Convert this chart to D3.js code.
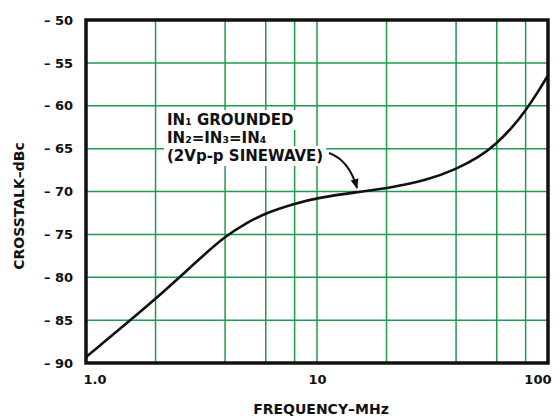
<!DOCTYPE html>
<html>
<head>
<meta charset="utf-8">
<script src="https://cdn.jsdelivr.net/npm/d3@7"></script>
<style>
  html, body { margin: 0; padding: 0; background: #fff; }
  svg { display: block; font-family: "DejaVu Sans", sans-serif; font-weight: bold; }
</style>
</head>
<body>
<svg id="chart" width="560" height="419"></svg>
<script>
// ---- data ----
const freqMHz = [1, 2, 3, 4, 5, 6, 8, 10, 15, 20, 30, 40, 50, 60, 70, 80, 90, 100];
const crosstalkDbc = [-89.3, -82.6, -78.2, -75.2, -73.6, -72.5, -71.4, -70.75, -70.05, -69.65, -68.7, -67.4, -66.05, -64.4, -62.55, -60.55, -58.5, -56.45];
const yTicks = [-50, -55, -60, -65, -70, -75, -80, -85, -90];
const xTickValues = [1, 10, 100];
const xTickLabels = ["1.0", "10", "100"];
const xGridValues = [2, 4, 6, 8, 10, 20, 40, 60, 80];
const yGridValues = [-55, -60, -65, -70, -75, -80, -85];
const annotationLines = ["IN\u2081 GROUNDED", "IN\u2082=IN\u2083=IN\u2084", "(2Vp-p SINEWAVE)"];

// ---- layout ----
const W = 560, H = 419;
const m = { left: 86, right: 12, top: 20, bottom: 56 };
const green = "#1f9a4e";

const svg = d3.select("#chart");
const x = d3.scaleLog().domain([1, 100]).range([m.left, W - m.right]);
const y = d3.scaleLinear().domain([-90, -50]).range([H - m.bottom, m.top]);

// grid
const grid = svg.append("g").attr("stroke", green).attr("stroke-width", 1.5);
grid.selectAll("line.v").data(xGridValues).join("line")
  .attr("x1", d => x(d)).attr("x2", d => x(d))
  .attr("y1", y(-50)).attr("y2", y(-90));
grid.selectAll("line.h").data(yGridValues).join("line")
  .attr("x1", x(1)).attr("x2", x(100))
  .attr("y1", d => y(d)).attr("y2", d => y(d));

// annotation with white backing
const ann = svg.append("g").attr("font-size", 15).attr("fill", "#111");
const annX = 167, annY0 = 125, annDy = 18;
const texts = ann.selectAll("text").data(annotationLines).join("text")
  .attr("x", annX).attr("y", (d, i) => annY0 + i * annDy)
  .text(d => d);
texts.each(function() {
  const b = this.getBBox();
  ann.insert("rect", "text")
    .attr("x", b.x - 3).attr("y", b.y - 1).attr("width", b.width + 6).attr("height", b.height + 2)
    .attr("fill", "#fff");
});

// arrow
const defs = svg.append("defs");
defs.append("marker").attr("id", "ah").attr("viewBox", "0 0 10 10")
  .attr("refX", 9).attr("refY", 5).attr("markerWidth", 5).attr("markerHeight", 5)
  .attr("markerUnits", "strokeWidth").attr("orient", "auto")
  .append("path").attr("d", "M0,1 L10,5 L0,9 Z").attr("fill", "#111");
svg.append("path")
  .attr("d", "M329,153 Q349,160 357,188")
  .attr("fill", "none").attr("stroke", "#111").attr("stroke-width", 2)
  .attr("marker-end", "url(#ah)");

// curve
const line = d3.line().x((d, i) => x(freqMHz[i])).y(d => y(d)).curve(d3.curveBasis);
svg.append("path").datum(crosstalkDbc)
  .attr("d", line)
  .attr("fill", "none").attr("stroke", "#111").attr("stroke-width", 2.6);

// frame
svg.append("rect")
  .attr("x", x(1)).attr("y", y(-50))
  .attr("width", x(100) - x(1)).attr("height", y(-90) - y(-50))
  .attr("fill", "none").attr("stroke", "#111").attr("stroke-width", 3.5);

// y axis
const yAxis = d3.axisLeft(y).tickValues(yTicks).tickSize(0).tickPadding(13)
  .tickFormat(d => "\u2013 " + Math.abs(d));
const gy = svg.append("g").attr("transform", `translate(${m.left},0)`).call(yAxis);
gy.select(".domain").remove();
gy.selectAll("text").attr("font-size", 13).attr("font-family", "DejaVu Sans").attr("font-weight", "bold").attr("fill", "#111");

// x axis
const xAxis = d3.axisBottom(x).tickValues(xTickValues).tickSize(0).tickPadding(12)
  .tickFormat((d, i) => xTickLabels[i]);
const gx = svg.append("g").attr("transform", `translate(0,${H - m.bottom})`).call(xAxis);
gx.select(".domain").remove();
gx.selectAll("text").attr("font-size", 13).attr("font-family", "DejaVu Sans").attr("font-weight", "bold").attr("fill", "#111")
  .attr("text-anchor", (d, i) => i === 0 ? "start" : (i === xTickValues.length - 1 ? "end" : "middle"))
  .attr("dx", (d, i) => i === 0 ? -3 : (i === xTickValues.length - 1 ? 3 : 0));

// axis titles
svg.append("text").attr("x", 321).attr("y", 414).attr("text-anchor", "middle")
  .attr("font-size", 14).attr("fill", "#111").text("FREQUENCY\u2013MHz");
svg.append("text").attr("transform", "translate(24,206) rotate(-90)").attr("text-anchor", "middle")
  .attr("font-size", 14).attr("fill", "#111").text("CROSSTALK\u2013dBc");
</script>
</body>
</html>
